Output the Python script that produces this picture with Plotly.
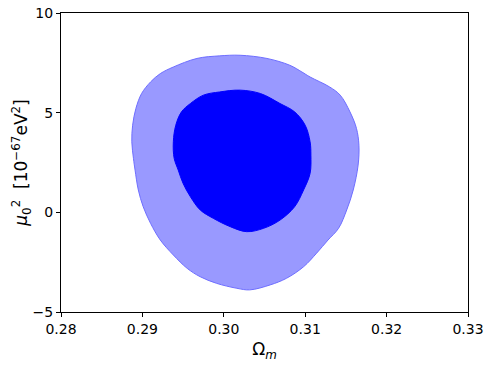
import plotly.graph_objects as go

# 2-sigma contour (outer) : Omega_m, mu0^2
outer_om = [0.3020, 0.3053, 0.3081, 0.3096, 0.3106, 0.3130, 0.3143, 0.3155, 0.3163, 0.3166,
            0.3165, 0.3159, 0.3151, 0.3141, 0.3128, 0.3114, 0.3098, 0.3077, 0.3057, 0.3032,
            0.3016, 0.2991, 0.2971, 0.2955, 0.2938, 0.2922, 0.2910, 0.2901, 0.2895, 0.2891,
            0.2889, 0.2887, 0.2888, 0.2892, 0.2899, 0.2910, 0.2922, 0.2938, 0.2967, 0.2995, 0.3020]
outer_mu = [7.88, 7.72, 7.38, 7.04, 6.79, 6.29, 5.88, 5.04, 4.21, 3.37,
            2.37, 1.12, 0.12, -0.80, -1.39, -2.05, -2.73, -3.31, -3.64, -3.89,
            -3.81, -3.56, -3.23, -2.81, -2.14, -1.39, -0.55, 0.28, 1.12, 2.12,
            2.71, 3.54, 4.37, 5.21, 5.96, 6.54, 6.96, 7.29, 7.72, 7.85, 7.88]

# 1-sigma contour (inner)
inner_om = [0.3020, 0.3045, 0.3069, 0.3087, 0.3100, 0.3106, 0.3107, 0.3106, 0.3098, 0.3087,
            0.3069, 0.3049, 0.3028, 0.3008, 0.2987, 0.2971, 0.2959, 0.2950, 0.2944, 0.2939,
            0.2938, 0.2941, 0.2948, 0.2959, 0.2975, 0.2995, 0.3020]
inner_mu = [6.13, 5.96, 5.46, 5.04, 4.37, 3.54, 2.87, 1.95, 1.12, 0.28,
            -0.39, -0.80, -0.97, -0.72, -0.30, 0.12, 0.78, 1.45, 2.12, 2.71,
            3.54, 4.37, 5.04, 5.46, 5.88, 6.04, 6.13]

x_ticks = [0.28, 0.29, 0.30, 0.31, 0.32, 0.33]
y_ticks = [-5, 0, 5, 10]

fig = go.Figure()
fig.add_trace(go.Scatter(x=outer_om, y=outer_mu, mode="lines", fill="toself",
                         fillcolor="rgb(153,153,255)", line=dict(color="rgb(110,110,255)", width=1),
                         line_shape="spline", hoverinfo="skip", showlegend=False))
fig.add_trace(go.Scatter(x=inner_om, y=inner_mu, mode="lines", fill="toself",
                         fillcolor="rgb(0,0,255)", line=dict(color="rgb(0,0,255)", width=1),
                         line_shape="spline", hoverinfo="skip", showlegend=False))

axis_common = dict(showgrid=False, zeroline=False, showline=True, linecolor="black", linewidth=1,
                   mirror=True, ticks="outside", ticklen=4, tickcolor="black", automargin=False,
                   tickfont=dict(family="DejaVu Sans", size=14, color="black"))

fig.update_xaxes(range=[0.28, 0.33], tickvals=x_ticks, ticktext=[f"{v:.2f}" for v in x_ticks],
                 title=dict(text="Ω<sub><i>m</i></sub>", font=dict(family="DejaVu Sans", size=17, color="black"),
                            standoff=7),
                 **axis_common)
fig.update_yaxes(range=[-5, 10], tickvals=y_ticks, ticktext=["−5", "0", "5", "10"],
                 title=dict(text="<i>μ</i><sub>0</sub><sup>2</sup>  [10<sup>−67</sup>eV<sup>2</sup>]",
                            font=dict(family="DejaVu Sans", size=17, color="black"), standoff=0),
                 **axis_common)

fig.update_layout(width=491, height=366, margin=dict(l=61, r=23, t=13, b=54),
                  plot_bgcolor="white", paper_bgcolor="white")

fig.write_html("out.html", config={"displayModeBar": False, "staticPlot": True},
               post_script="document.body.style.margin='0';document.body.style.overflow='hidden';")
